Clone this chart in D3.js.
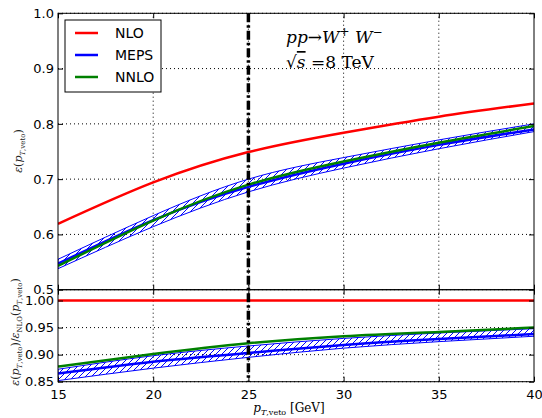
<!DOCTYPE html>
<html>
<head>
<meta charset="utf-8">
<script src="https://cdn.jsdelivr.net/npm/d3@7"></script>
<style>
  body { margin: 0; background: #fff; }
  .tick text { font-family: "DejaVu Sans", sans-serif; font-size: 13px; fill: #000; }
  .math { font-family: "DejaVu Serif", "Liberation Serif", serif; }
</style>
</head>
<body>
<div id="chart"></div>
<script>
// pT,veto values [GeV]
var ptVeto = [15, 20, 25, 30, 35, 40];

// jet veto efficiency (top panel)
var nloEff = [0.619, 0.694, 0.749, 0.784, 0.813, 0.837];
var nnloEff = [0.543, 0.625, 0.690, 0.732, 0.766, 0.796];
var mepsEff = [0.547, 0.626, 0.686, 0.728, 0.762, 0.790];
var mepsEffHi = [0.555, 0.634, 0.700, 0.739, 0.771, 0.800];
var mepsEffLo = [0.538, 0.614, 0.677, 0.720, 0.755, 0.786];

// ratio to NLO (bottom panel)
var nloRatio = [1, 1, 1, 1, 1, 1];
var nnloRatio = [0.878, 0.901, 0.921, 0.934, 0.942, 0.950];
var mepsRatio = [0.865, 0.887, 0.903, 0.918, 0.929, 0.938];
var mepsRatioHi = [0.873, 0.898, 0.916, 0.930, 0.940, 0.948];
var mepsRatioLo = [0.852, 0.875, 0.895, 0.912, 0.924, 0.934];

var xTicks = [15, 20, 25, 30, 35, 40];
var topTicks = [0.5, 0.6, 0.7, 0.8, 0.9, 1.0];
var botTicks = [0.85, 0.9, 0.95, 1.0];
var vetoCut = 25;

var legendItems = [
  { name: "NLO", color: "#ff0000" },
  { name: "MEPS", color: "#0000ff" },
  { name: "NNLO", color: "#008000" }
];

var width = 542;
var height = 418;
var left = 58, right = 534;
var topY0 = 13.3, topY1 = 289.7, botY1 = 381.7;

var x = d3.scaleLinear().domain([15, 40]).range([left, right]);
var yTop = d3.scaleLinear().domain([0.5, 1.0]).range([topY1, topY0]);
var yBot = d3.scaleLinear().domain([0.85, 1.02]).range([botY1, topY1]);

var svg = d3.select("#chart").append("svg")
  .attr("width", width)
  .attr("height", height);

svg.append("rect").attr("width", width).attr("height", height).attr("fill", "#fff");

var defs = svg.append("defs");
var hatch = defs.append("pattern")
  .attr("id", "hatch")
  .attr("patternUnits", "userSpaceOnUse")
  .attr("width", 6)
  .attr("height", 6);
hatch.append("path")
  .attr("d", "M-1,1 l2,-2 M0,6 l6,-6 M5,7 l2,-2")
  .attr("stroke", "#0000ff")
  .attr("stroke-width", 1);

function clip(id, y0, y1) {
  defs.append("clipPath").attr("id", id)
    .append("rect")
    .attr("x", left).attr("y", y0)
    .attr("width", right - left).attr("height", y1 - y0);
}
clip("clipTop", topY0, topY1);
clip("clipBot", topY1, botY1);

var grid = function(g, y, yTicks) {
  g.selectAll("line.h")
    .data(yTicks)
    .enter()
    .append("line")
    .attr("x1", left).attr("x2", right)
    .attr("y1", function(d) { return y(d); })
    .attr("y2", function(d) { return y(d); });
  g.selectAll("line.v")
    .data(xTicks.slice(1, -1))
    .enter()
    .append("line")
    .attr("x1", function(d) { return x(d); })
    .attr("x2", function(d) { return x(d); })
    .attr("y1", y.range()[0]).attr("y2", y.range()[1]);
  g.attr("stroke", "#000")
    .attr("stroke-width", 1)
    .attr("stroke-dasharray", "1,3");
};

grid(svg.append("g"), yTop, topTicks);
grid(svg.append("g"), yBot, botTicks);

var drawPanel = function(y, clipId, nlo, nnlo, meps, hi, lo) {
  var g = svg.append("g").attr("clip-path", "url(#" + clipId + ")");
  var rows = ptVeto.map(function(p, i) {
    return { x: p, nlo: nlo[i], nnlo: nnlo[i], meps: meps[i], hi: hi[i], lo: lo[i] };
  });
  var curve = d3.curveNatural;

  g.append("path")
    .datum(rows)
    .attr("fill", "url(#hatch)")
    .attr("stroke", "#0000ff")
    .attr("stroke-width", 1)
    .attr("d", d3.area().curve(curve)
      .x(function(d) { return x(d.x); })
      .y0(function(d) { return y(d.lo); })
      .y1(function(d) { return y(d.hi); }));

  var series = [
    { key: "meps", color: "#0000ff" },
    { key: "nnlo", color: "#008000" },
    { key: "nlo", color: "#ff0000" }
  ];
  series.forEach(function(s) {
    g.append("path")
      .datum(rows)
      .attr("fill", "none")
      .attr("stroke", s.color)
      .attr("stroke-width", 2.5)
      .attr("d", d3.line().curve(curve)
        .x(function(d) { return x(d.x); })
        .y(function(d) { return y(d[s.key]); }));
  });
};

drawPanel(yTop, "clipTop", nloEff, nnloEff, mepsEff, mepsEffHi, mepsEffLo);
drawPanel(yBot, "clipBot", nloRatio, nnloRatio, mepsRatio, mepsRatioHi, mepsRatioLo);

// veto line
svg.append("line")
  .attr("x1", x(vetoCut)).attr("x2", x(vetoCut))
  .attr("y1", topY0).attr("y2", botY1)
  .attr("stroke", "#000")
  .attr("stroke-width", 3.5)
  .attr("stroke-dasharray", "9,3,2.5,3");

// axes
var axes = function(y, ticks, fmt, showX) {
  svg.append("g")
    .attr("transform", "translate(" + left + ",0)")
    .call(d3.axisLeft(y).tickValues(ticks).tickFormat(d3.format(fmt)).tickSizeInner(-5).tickSizeOuter(0).tickPadding(4));
  svg.append("g")
    .attr("transform", "translate(" + right + ",0)")
    .call(d3.axisRight(y).tickValues(ticks).tickFormat("").tickSizeInner(-5).tickSizeOuter(0));
  svg.append("g")
    .attr("transform", "translate(0," + y.range()[1] + ")")
    .call(d3.axisTop(x).tickValues(xTicks).tickFormat("").tickSizeInner(-5).tickSizeOuter(0));
  svg.append("g")
    .attr("transform", "translate(0," + y.range()[0] + ")")
    .call(d3.axisBottom(x).tickValues(xTicks).tickFormat(showX ? d3.format("d") : "").tickSizeInner(-5).tickSizeOuter(0).tickPadding(8));
  svg.append("rect")
    .attr("x", left).attr("y", y.range()[1])
    .attr("width", right - left).attr("height", y.range()[0] - y.range()[1])
    .attr("fill", "none").attr("stroke", "#000").attr("stroke-width", 1);
};
axes(yTop, topTicks, ".1f", false);
axes(yBot, botTicks, ".2f", true);
svg.selectAll(".domain").remove();
svg.selectAll(".tick line").attr("stroke", "#000");

// legend
var legend = svg.append("g").attr("transform", "translate(65,20)");
legend.append("rect")
  .attr("width", 96).attr("height", 72)
  .attr("fill", "#fff").attr("stroke", "#000").attr("stroke-width", 1);
var item = legend.selectAll("g.item")
  .data(legendItems)
  .enter()
  .append("g")
  .attr("transform", function(d, i) { return "translate(0," + (13 + i * 22) + ")"; });
item.append("line")
  .attr("x1", 10).attr("x2", 33)
  .attr("stroke", function(d) { return d.color; })
  .attr("stroke-width", 2.5);
item.append("text")
  .attr("x", 50).attr("y", 5)
  .attr("font-family", "DejaVu Sans, sans-serif")
  .attr("font-size", 14)
  .text(function(d) { return d.name; });

// process annotation
var t1 = svg.append("text").attr("class", "math").attr("x", 286).attr("y", 43).attr("font-size", 17);
t1.append("tspan").attr("font-style", "italic").text("pp");
t1.append("tspan").text("\u2192");
t1.append("tspan").attr("font-style", "italic").text("W");
t1.append("tspan").attr("font-size", 12).attr("dy", -7).text("+");
t1.append("tspan").attr("font-style", "italic").attr("dy", 7).text(" W");
t1.append("tspan").attr("font-size", 12).attr("dy", -7).text("\u2212");

var t2 = svg.append("text").attr("class", "math").attr("x", 286).attr("y", 68).attr("font-size", 17);
t2.append("tspan").text("\u221A");
t2.append("tspan").attr("font-style", "italic").attr("text-decoration", "overline").text("s");
t2.append("tspan").text(" =8 TeV");

// axis labels
var xl = svg.append("text").attr("class", "math")
  .attr("x", 289).attr("y", 412).attr("text-anchor", "middle").attr("font-size", 12);
xl.append("tspan").attr("font-style", "italic").text("p");
xl.append("tspan").attr("font-size", 8).attr("dy", 3).html("<tspan font-style='italic'>T</tspan>,veto");
xl.append("tspan").attr("dy", -3).text(" [GeV]");

var ylTop = svg.append("text").attr("class", "math")
  .attr("transform", "translate(22,151) rotate(-90)")
  .attr("text-anchor", "middle").attr("font-size", 11).attr("fill", "#222");
ylTop.append("tspan").attr("font-style", "italic").text("\u03B5");
ylTop.append("tspan").text("(");
ylTop.append("tspan").attr("font-style", "italic").text("p");
ylTop.append("tspan").attr("font-size", 7).attr("dy", 3).html("<tspan font-style='italic'>T</tspan>,veto");
ylTop.append("tspan").attr("dy", -3).text(")");

var ylBot = svg.append("text").attr("class", "math")
  .attr("transform", "translate(19,332) rotate(-90)")
  .attr("text-anchor", "middle").attr("font-size", 11).attr("fill", "#222");
ylBot.append("tspan").attr("font-style", "italic").text("\u03B5");
ylBot.append("tspan").text("(");
ylBot.append("tspan").attr("font-style", "italic").text("p");
ylBot.append("tspan").attr("font-size", 7).attr("dy", 3).html("<tspan font-style='italic'>T</tspan>,veto");
ylBot.append("tspan").attr("dy", -3).text(")/");
ylBot.append("tspan").attr("font-style", "italic").text("\u03B5");
ylBot.append("tspan").attr("font-size", 7).attr("dy", 3).text("NLO");
ylBot.append("tspan").attr("dy", -3).text("(");
ylBot.append("tspan").attr("font-style", "italic").text("p");
ylBot.append("tspan").attr("font-size", 7).attr("dy", 3).html("<tspan font-style='italic'>T</tspan>,veto");
ylBot.append("tspan").attr("dy", -3).text(")");
</script>
</body>
</html>
